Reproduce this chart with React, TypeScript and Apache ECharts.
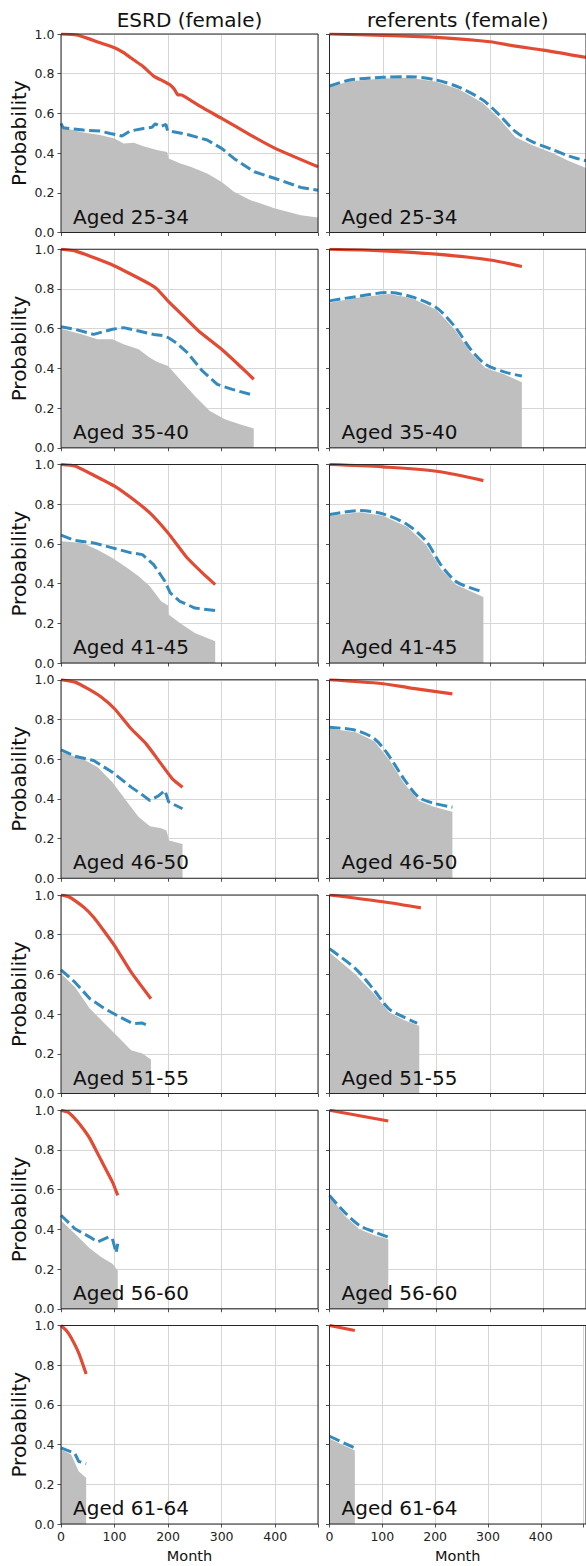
import React, { useEffect, useRef } from "react";
import * as echarts from "echarts";

// ---------- labels ----------
const COLUMN_TITLES = ["ESRD (female)", "referents (female)"];
const AGE_GROUPS = ["Aged 25-34", "Aged 35-40", "Aged 41-45", "Aged 46-50", "Aged 51-55", "Aged 56-60", "Aged 61-64"];
const Y_LABEL = "Probability";
const X_LABEL = "Month";
const X_TICKS = [0, 100, 200, 300, 400];
const Y_TICKS = [0.0, 0.2, 0.4, 0.6, 0.8, 1.0];

// ---------- data: [month, probability] ----------
// ESRD 25-34
const esrd2534Red = [[0,1.0],[29,0.995],[50,0.978],[67,0.961],[100,0.931],[117,0.906],[136,0.869],[154,0.835],[173,0.788],[193,0.76],[204,0.743],[212,0.72],[218,0.694],[226,0.692],[261,0.634],[300,0.575],[354,0.491],[400,0.424],[480,0.331]];
const esrd2534Blue = [[0,0.55],[4,0.528],[42,0.516],[73,0.511],[92,0.499],[114,0.486],[129,0.511],[154,0.524],[170,0.53],[176,0.548],[186,0.533],[196,0.545],[199,0.513],[236,0.494],[273,0.466],[300,0.424],[323,0.373],[361,0.306],[400,0.272],[448,0.227],[480,0.213]];
const esrd2534Gray = [[0,0.53],[42,0.504],[73,0.491],[100,0.474],[117,0.448],[136,0.452],[154,0.435],[179,0.415],[198,0.405],[201,0.373],[223,0.348],[242,0.331],[273,0.297],[300,0.255],[323,0.205],[354,0.163],[400,0.121],[448,0.087],[480,0.076]];
// referents 25-34
const ref2534Red = [[0,1.0],[100,0.993],[200,0.983],[300,0.961],[348,0.939],[400,0.919],[480,0.882]];
const ref2534Blue = [[0,0.738],[38,0.768],[100,0.782],[150,0.785],[200,0.768],[243,0.731],[287,0.667],[318,0.592],[348,0.508],[380,0.457],[417,0.418],[448,0.385],[480,0.361]];
const ref2534Gray = [[0,0.733],[38,0.762],[100,0.776],[150,0.779],[200,0.76],[243,0.72],[287,0.652],[318,0.572],[348,0.48],[380,0.44],[417,0.4],[448,0.36],[480,0.325]];
// ESRD 35-40
const esrd3540Red = [[0,1.0],[26,0.992],[61,0.958],[100,0.916],[131,0.874],[166,0.824],[180,0.798],[200,0.739],[222,0.681],[257,0.588],[300,0.496],[334,0.412],[360,0.345]];
const esrd3540Blue = [[0,0.61],[26,0.597],[61,0.571],[96,0.597],[117,0.605],[145,0.588],[173,0.571],[190,0.565],[200,0.555],[215,0.529],[236,0.479],[264,0.387],[292,0.319],[320,0.294],[360,0.264]];
const esrd3540Gray = [[0,0.6],[40,0.571],[68,0.546],[96,0.546],[117,0.521],[145,0.496],[166,0.454],[180,0.432],[200,0.412],[222,0.345],[250,0.261],[278,0.185],[306,0.143],[334,0.118],[360,0.097]];
// referents 35-40
const ref3540Red = [[0,1.0],[100,0.992],[200,0.975],[300,0.946],[360,0.913]];
const ref3540Blue = [[0,0.74],[49,0.761],[111,0.782],[153,0.761],[200,0.706],[236,0.605],[264,0.496],[292,0.42],[327,0.382],[360,0.361]];
const ref3540Gray = [[0,0.73],[49,0.755],[111,0.775],[153,0.755],[200,0.695],[236,0.59],[264,0.48],[292,0.4],[327,0.37],[360,0.33]];
// ESRD 41-45
const esrd4145Red = [[0,1.0],[26,0.992],[61,0.946],[100,0.891],[131,0.832],[166,0.756],[200,0.655],[219,0.588],[236,0.529],[264,0.454],[288,0.395]];
const esrd4145Blue = [[0,0.644],[26,0.617],[61,0.605],[96,0.58],[131,0.555],[152,0.546],[173,0.496],[194,0.412],[204,0.353],[222,0.311],[250,0.277],[288,0.264]];
const esrd4145Gray = [[0,0.613],[40,0.605],[68,0.571],[96,0.529],[124,0.479],[145,0.437],[166,0.387],[187,0.311],[200,0.29],[201,0.244],[222,0.202],[250,0.151],[288,0.109]];
// referents 41-45
const ref4145Red = [[0,1.0],[100,0.988],[200,0.966],[288,0.919]];
const ref4145Blue = [[0,0.748],[56,0.768],[100,0.751],[146,0.697],[181,0.613],[208,0.496],[236,0.412],[264,0.378],[288,0.358]];
const ref4145Gray = [[0,0.74],[56,0.76],[100,0.742],[146,0.685],[181,0.595],[208,0.475],[236,0.395],[264,0.362],[288,0.332]];
// ESRD 46-50
const esrd4650Red = [[0,1.0],[26,0.988],[50,0.955],[75,0.913],[100,0.854],[131,0.753],[159,0.677],[187,0.576],[208,0.501],[227,0.459]];
const esrd4650Blue = [[0,0.647],[26,0.615],[61,0.593],[96,0.534],[131,0.459],[152,0.42],[166,0.392],[183,0.417],[194,0.442],[201,0.385],[227,0.35]];
const esrd4650Gray = [[0,0.635],[40,0.602],[68,0.56],[96,0.484],[124,0.383],[145,0.308],[166,0.262],[187,0.252],[197,0.24],[202,0.19],[227,0.173]];
// referents 46-50
const ref4650Red = [[0,1.0],[100,0.98],[153,0.958],[230,0.929]];
const ref4650Blue = [[0,0.761],[49,0.745],[84,0.703],[111,0.618],[139,0.501],[167,0.408],[195,0.378],[230,0.358]];
const ref4650Gray = [[0,0.755],[49,0.735],[84,0.69],[111,0.6],[139,0.48],[167,0.39],[195,0.36],[230,0.335]];
// ESRD 51-55
const esrd5155Red = [[0,1.0],[13,0.992],[26,0.972],[44,0.935],[61,0.888],[80,0.82],[100,0.745],[131,0.611],[168,0.477]];
const esrd5155Blue = [[0,0.623],[26,0.561],[54,0.477],[82,0.427],[110,0.385],[134,0.352],[152,0.355],[166,0.338]];
const esrd5155Gray = [[0,0.603],[26,0.536],[54,0.427],[82,0.352],[110,0.276],[131,0.218],[152,0.201],[168,0.171]];
// referents 51-55
const ref5155Red = [[0,1.0],[100,0.966],[171,0.935]];
const ref5155Blue = [[0,0.729],[49,0.628],[84,0.519],[111,0.427],[139,0.385],[164,0.355]];
const ref5155Gray = [[0,0.71],[49,0.6],[84,0.5],[111,0.41],[139,0.37],[168,0.34]];
// ESRD 56-60
const esrd5660Red = [[0,1.0],[13,0.99],[26,0.958],[40,0.912],[54,0.857],[75,0.748],[96,0.639],[106,0.571]];
const esrd5660Blue = [[0,0.471],[26,0.403],[54,0.361],[68,0.336],[89,0.361],[96,0.353],[103,0.282],[106,0.328]];
const esrd5660Gray = [[0,0.445],[26,0.378],[54,0.303],[75,0.261],[96,0.227],[106,0.193]];
// referents 56-60
const ref5660Red = [[0,1.0],[110,0.946]];
const ref5660Blue = [[0,0.571],[28,0.487],[56,0.42],[84,0.387],[110,0.361]];
const ref5660Gray = [[0,0.57],[28,0.47],[56,0.4],[84,0.37],[110,0.35]];
// ESRD 61-64
const esrd6164Red = [[0,1.0],[10,0.975],[19,0.938],[33,0.862],[47,0.756]];
const esrd6164Blue = [[0,0.383],[19,0.363],[26,0.355],[33,0.315],[40,0.31],[47,0.304]];
const esrd6164Gray = [[0,0.375],[19,0.35],[33,0.266],[40,0.249],[47,0.232]];
// referents 61-64
const ref6164Red = [[0,1.0],[48,0.975]];
const ref6164Blue = [[0,0.442],[48,0.383]];
const ref6164Gray = [[0,0.43],[48,0.37]];

const PANELS = [
  [{ red: esrd2534Red, blue: esrd2534Blue, gray: esrd2534Gray }, { red: ref2534Red, blue: ref2534Blue, gray: ref2534Gray }],
  [{ red: esrd3540Red, blue: esrd3540Blue, gray: esrd3540Gray }, { red: ref3540Red, blue: ref3540Blue, gray: ref3540Gray }],
  [{ red: esrd4145Red, blue: esrd4145Blue, gray: esrd4145Gray }, { red: ref4145Red, blue: ref4145Blue, gray: ref4145Gray }],
  [{ red: esrd4650Red, blue: esrd4650Blue, gray: esrd4650Gray }, { red: ref4650Red, blue: ref4650Blue, gray: ref4650Gray }],
  [{ red: esrd5155Red, blue: esrd5155Blue, gray: esrd5155Gray }, { red: ref5155Red, blue: ref5155Blue, gray: ref5155Gray }],
  [{ red: esrd5660Red, blue: esrd5660Blue, gray: esrd5660Gray }, { red: ref5660Red, blue: ref5660Blue, gray: ref5660Gray }],
  [{ red: esrd6164Red, blue: esrd6164Blue, gray: esrd6164Gray }, { red: ref6164Red, blue: ref6164Blue, gray: ref6164Gray }],
];

// ---------- layout / style ----------
const W = 586;
const H = 1566;
const COL_LEFT = [61, 329.5];
const COL_WIDTH = [257, 256.5];
const ROW_TOP0 = 34;
const ROW_STEP = 215.25;
const ROW_H = 198.5;
const FONT = "DejaVu Sans, sans-serif";
const RED = "#E24A33";
const BLUE = "#348ABD";
const GRAY = "#bfbfbf";
const GRID_COLOR = "#d6d6d6";
const SPINE = "#262626";

function buildOption() {
  const grid: any[] = [];
  const xAxis: any[] = [];
  const yAxis: any[] = [];
  const series: any[] = [];
  const graphic: any[] = [];
  const nRows = PANELS.length;

  PANELS.forEach((row, r) => {
    row.forEach((panel, c) => {
      const k = r * 2 + c;
      const top = ROW_TOP0 + r * ROW_STEP;
      grid.push({ left: COL_LEFT[c], top, width: COL_WIDTH[c], height: ROW_H, containLabel: false });
      const isBottom = r === nRows - 1;
      xAxis.push({
        type: "value",
        gridIndex: k,
        min: 0,
        max: 480,
        interval: 100,
        axisLine: { show: false },
        axisTick: { show: true, length: 3.5, lineStyle: { color: SPINE, width: 0.8 } },
        axisLabel: {
          show: isBottom,
          margin: 6,
          fontFamily: FONT,
          fontSize: 12.5,
          color: "#222",
          formatter: (v: number) => (X_TICKS.includes(v) ? String(v) : ""),
        },
        splitLine: { show: true, lineStyle: { color: GRID_COLOR, width: 1 } },
      });
      yAxis.push({
        type: "value",
        gridIndex: k,
        min: 0,
        max: 1,
        interval: 0.2,
        axisLine: { show: false },
        axisTick: { show: true, length: 3.5, lineStyle: { color: SPINE, width: 0.8 } },
        axisLabel: {
          show: c === 0,
          margin: 6.5,
          fontFamily: FONT,
          fontSize: 12.5,
          color: "#222",
          formatter: (v: number) => {
            const t = Y_TICKS.find((y) => Math.abs(y - v) < 1e-6);
            return t === undefined ? "" : t.toFixed(1);
          },
        },
        splitLine: { show: true, lineStyle: { color: GRID_COLOR, width: 1 } },
      });
      series.push({
        type: "line",
        xAxisIndex: k,
        yAxisIndex: k,
        data: panel.gray,
        symbol: "none",
        showSymbol: false,
        silent: true,
        lineStyle: { width: 0, opacity: 0 },
        itemStyle: { color: GRAY },
        areaStyle: { color: GRAY, opacity: 1 },
        z: 1,
      });
      series.push({
        type: "line",
        xAxisIndex: k,
        yAxisIndex: k,
        data: panel.blue,
        symbol: "none",
        showSymbol: false,
        silent: true,
        smooth: c === 1 ? 0.3 : false,
        lineStyle: { color: BLUE, width: 3, type: [11, 4.5] },
        itemStyle: { color: BLUE },
        z: 2,
      });
      series.push({
        type: "line",
        xAxisIndex: k,
        yAxisIndex: k,
        data: panel.red,
        symbol: "none",
        showSymbol: false,
        silent: true,
        smooth: c === 1 ? 0.3 : 0.15,
        lineStyle: { color: RED, width: 3.2 },
        itemStyle: { color: RED },
        z: 3,
      });
      // frame (spines)
      graphic.push({
        type: "rect",
        z: 100,
        silent: true,
        shape: { x: COL_LEFT[c], y: top, width: COL_WIDTH[c], height: ROW_H },
        style: { fill: "none", stroke: SPINE, lineWidth: 1 },
      });
      // age group label
      graphic.push({
        type: "text",
        z: 101,
        silent: true,
        x: COL_LEFT[c] + 12,
        y: top + ROW_H - 16,
        style: {
          text: AGE_GROUPS[r],
          fontFamily: FONT,
          fontSize: 20,
          fill: "#111",
          textAlign: "left",
          textVerticalAlign: "middle",
        },
      });
    });
    // y label
    graphic.push({
      type: "text",
      z: 101,
      silent: true,
      x: 19,
      y: ROW_TOP0 + r * ROW_STEP + ROW_H / 2,
      rotation: Math.PI / 2,
      style: {
        text: Y_LABEL,
        fontFamily: FONT,
        fontSize: 20,
        fill: "#111",
        textAlign: "center",
        textVerticalAlign: "middle",
      },
    });
  });

  COLUMN_TITLES.forEach((t, c) => {
    graphic.push({
      type: "text",
      z: 101,
      silent: true,
      x: COL_LEFT[c] + COL_WIDTH[c] / 2,
      y: 20,
      style: { text: t, fontFamily: FONT, fontSize: 20, fill: "#111", textAlign: "center", textVerticalAlign: "middle" },
    });
    graphic.push({
      type: "text",
      z: 101,
      silent: true,
      x: COL_LEFT[c] + COL_WIDTH[c] / 2,
      y: 1556,
      style: { text: X_LABEL, fontFamily: FONT, fontSize: 14.5, fill: "#111", textAlign: "center", textVerticalAlign: "middle" },
    });
  });

  return {
    animation: false,
    backgroundColor: "#ffffff",
    textStyle: { fontFamily: FONT },
    grid,
    xAxis,
    yAxis,
    series,
    graphic,
  };
}

export default function App() {
  const ref = useRef<HTMLDivElement>(null);
  useEffect(() => {
    if (!ref.current) return;
    const chart = echarts.init(ref.current, undefined, { renderer: "svg", width: W, height: H });
    chart.setOption(buildOption() as any);
    return () => chart.dispose();
  }, []);
  return (
    <div
      ref={ref}
      style={{ position: "absolute", left: 0, top: 0, width: W, height: H, background: "#fff" }}
    />
  );
}
